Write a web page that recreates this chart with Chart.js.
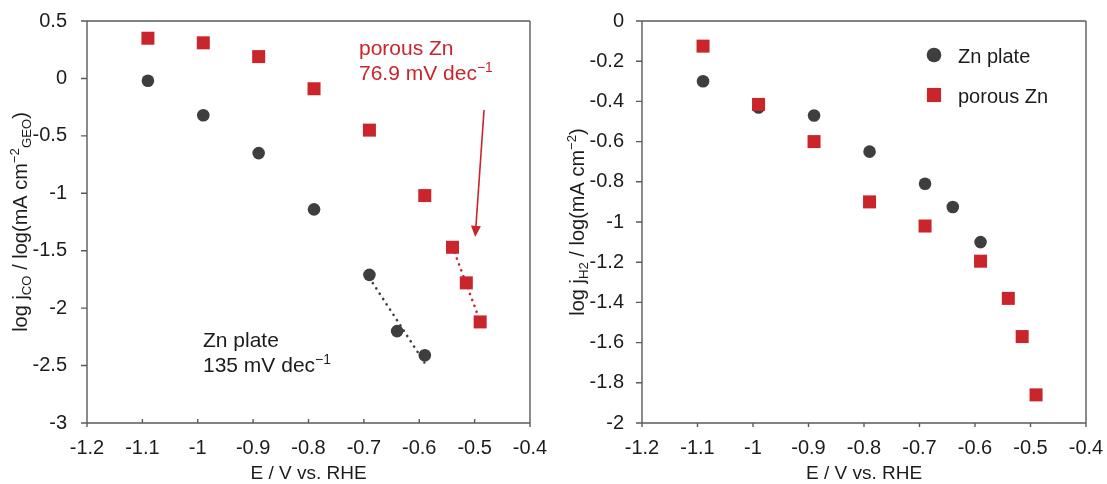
<!DOCTYPE html>
<html>
<head>
<meta charset="utf-8">
<script src="https://cdn.jsdelivr.net/npm/chart.js@4.4.1/dist/chart.umd.min.js"></script>
<style>
  html, body { margin: 0; padding: 0; background: #ffffff; }
  #wrap { position: relative; width: 1107px; height: 484px; overflow: hidden; }
  #c1 { position: absolute; left: 0; top: 0; }
  #c2 { position: absolute; left: 560px; top: 0; }
</style>
</head>
<body>
<div id="wrap">
  <canvas id="c1" width="560" height="484" style="width:560px;height:484px"></canvas>
  <canvas id="c2" width="547" height="484" style="width:547px;height:484px"></canvas>
</div>
<script>
// Electrode potentials, V vs. RHE
const platePotentials  = [-1.09, -0.99, -0.89, -0.79, -0.69, -0.64, -0.59];
const porousPotentials = [-1.09, -0.99, -0.89, -0.79, -0.69, -0.59, -0.54, -0.515, -0.49];

// log of CO partial current density
const plateCO  = [-0.02, -0.32, -0.65, -1.14, -1.71, -2.20, -2.41];
const porousCO = [0.35, 0.31, 0.19, -0.09, -0.45, -1.02, -1.47, -1.78, -2.12];

// log of H2 partial current density
const plateH2  = [-0.30, -0.43, -0.47, -0.65, -0.81, -0.925, -1.10];
const porousH2 = [-0.125, -0.415, -0.60, -0.90, -1.02, -1.195, -1.38, -1.57, -1.86];

// Tafel fit windows (indices into the series) and reported slopes, mV dec^-1
const plateTafelIdx  = [4, 5, 6];
const porousTafelIdx = [6, 7, 8];
const plateTafelSlope  = 135;
const porousTafelSlope = 76.9;

// Axis ranges and steps
const potentialRange = [-1.2, -0.4, 0.1];
const coRange = [-3, 0.5, 0.5];
const h2Range = [-2, 0, 0.2];

const seriesNames = ['Zn plate', 'porous Zn'];

const FONT = "'Liberation Sans', Arial, Helvetica, sans-serif";
const RED = '#c9252b';
const DARK = '#3e3e3e';
const AXIS = '#5a5a5a';
const INK = '#1c1c1c';
const TICK_SIZE = 20;
const TITLE_SIZE = 20;

function points(xs, ys) {
  return xs.map((x, i) => ({ x, y: ys[i] }));
}

// Straight Tafel line through the centroid of the fit window with the reported slope
function tafelLine(xs, ys, idx, slopeMv) {
  const px = idx.map(i => xs[i]);
  const py = idx.map(i => ys[i]);
  const mx = px.reduce((a, b) => a + b, 0) / px.length;
  const my = py.reduce((a, b) => a + b, 0) / py.length;
  const k = 1000 / slopeMv;
  return [Math.min(...px), Math.max(...px)].map(x => ({ x, y: my - k * (x - mx) }));
}

function fmt(v) {
  const r = Math.round(v * 10) / 10;
  return String(Object.is(r, -0) ? 0 : r);
}

// Text runs with superscript / subscript pieces
function richWidth(ctx, segs, size) {
  let w = 0;
  segs.forEach(s => {
    const fs = s.k === 'n' ? size : size * 0.66;
    ctx.font = fs + 'px ' + FONT;
    w += ctx.measureText(s.t).width;
  });
  return w;
}
function drawRich(ctx, segs, x, y, size, color) {
  ctx.fillStyle = color;
  ctx.textBaseline = 'alphabetic';
  ctx.textAlign = 'left';
  let cx = x;
  segs.forEach(s => {
    const fs = s.k === 'n' ? size : size * 0.66;
    const dy = s.k === 'sup' ? -size * 0.38 : s.k === 'sub' ? size * 0.22 : 0;
    ctx.font = fs + 'px ' + FONT;
    ctx.fillText(s.t, cx, y + dy);
    cx += ctx.measureText(s.t).width;
  });
}

// Frame, tick marks, axis titles, notes, arrow and legend
const decor = {
  id: 'decor',
  beforeDatasetsDraw(chart, args, o) {
    const { ctx, chartArea: a } = chart;
    const xs = chart.scales.x, ys = chart.scales.y;
    ctx.save();
    ctx.strokeStyle = AXIS;
    ctx.lineWidth = 1.4;
    ctx.beginPath();
    ctx.moveTo(a.left, a.top); ctx.lineTo(a.right, a.top);
    ctx.moveTo(a.left, a.bottom); ctx.lineTo(a.right, a.bottom);
    ctx.moveTo(a.left, a.top); ctx.lineTo(a.left, a.bottom + 4);
    ctx.moveTo(a.right, a.top); ctx.lineTo(a.right, a.bottom + 4);
    ys.ticks.forEach(t => {
      const p = ys.getPixelForValue(t.value);
      ctx.moveTo(a.left - 6, p); ctx.lineTo(a.left, p);
    });
    xs.ticks.forEach(t => {
      const p = xs.getPixelForValue(t.value);
      if (o.xTicksInside) { ctx.moveTo(p, a.bottom); ctx.lineTo(p, a.bottom - 4); }
      else { ctx.moveTo(p, a.bottom); ctx.lineTo(p, a.bottom + 4); }
    });
    ctx.stroke();
    ctx.restore();
  },
  afterDraw(chart, args, o) {
    const { ctx, chartArea: a } = chart;
    const xs = chart.scales.x, ys = chart.scales.y;
    ctx.save();
    ctx.font = '19px ' + FONT;
    ctx.fillStyle = INK;
    ctx.textAlign = 'center';
    ctx.textBaseline = 'alphabetic';
    ctx.fillText(o.xTitle, (a.left + a.right) / 2, 479);
    ctx.save();
    ctx.translate(o.yTitleX, (a.top + a.bottom) / 2);
    ctx.rotate(-Math.PI / 2);
    const w = richWidth(ctx, o.yTitle, TITLE_SIZE);
    drawRich(ctx, o.yTitle, -w / 2, 6, TITLE_SIZE, INK);
    ctx.restore();
    (o.notes || []).forEach(n => {
      n.lines.forEach((line, i) => {
        drawRich(ctx, line, a.left + n.dx, a.top + n.dy + i * 25, 21, n.color);
      });
    });
    if (o.arrow) {
      const x0 = xs.getPixelForValue(o.arrow.from[0]), y0 = ys.getPixelForValue(o.arrow.from[1]);
      const x1 = xs.getPixelForValue(o.arrow.to[0]), y1 = ys.getPixelForValue(o.arrow.to[1]);
      const ang = Math.atan2(y1 - y0, x1 - x0);
      const L = 11, H = 5;
      const bx = x1 - L * Math.cos(ang), by = y1 - L * Math.sin(ang);
      ctx.strokeStyle = RED;
      ctx.fillStyle = RED;
      ctx.lineWidth = 1.6;
      ctx.beginPath(); ctx.moveTo(x0, y0); ctx.lineTo(bx, by); ctx.stroke();
      ctx.beginPath();
      ctx.moveTo(x1, y1);
      ctx.lineTo(bx + H * Math.sin(ang), by - H * Math.cos(ang));
      ctx.lineTo(bx - H * Math.sin(ang), by + H * Math.cos(ang));
      ctx.closePath();
      ctx.fill();
    }
    if (o.legend) {
      o.legend.items.forEach((idx, i) => {
        const ds = chart.data.datasets[idx];
        const mx = a.right - o.legend.dxRight;
        const my = a.top + o.legend.dy + i * 40;
        ctx.fillStyle = ds.backgroundColor;
        ctx.strokeStyle = ds.backgroundColor;
        Chart.helpers.drawPoint(ctx, {
          pointStyle: ds.pointStyle,
          radius: ds.pointStyle === 'rect' ? 10 : 7.3,
          rotation: 0,
          borderWidth: 0
        }, mx, my);
        ctx.font = '20px ' + FONT;
        ctx.fillStyle = INK;
        ctx.textAlign = 'left';
        ctx.textBaseline = 'alphabetic';
        ctx.fillText(ds.label, mx + 24, my + 7.5);
      });
    }
    ctx.restore();
  }
};

function scatterSet(label, xs, ys, style, color, order) {
  return {
    label, data: points(xs, ys), order,
    pointStyle: style,
    pointRadius: style === 'rect' ? 9.2 : 6.3,
    backgroundColor: color, borderColor: color, borderWidth: 0,
    showLine: false
  };
}
function fitSet(pts, color) {
  return {
    label: '', data: pts, order: 5, showLine: true,
    pointRadius: 0, borderColor: color, borderWidth: 2.6,
    borderDash: [0.1, 6.2], borderCapStyle: 'round', fill: false
  };
}

function makeChart(id, cfg) {
  return new Chart(document.getElementById(id), {
    type: 'scatter',
    data: { datasets: cfg.datasets },
    plugins: [decor],
    options: {
      responsive: false,
      devicePixelRatio: 1,
      animation: false,
      events: [],
      layout: { padding: { left: 0, right: cfg.padRight, top: 21, bottom: 0 } },
      plugins: { legend: { display: false }, tooltip: { enabled: false }, decor: cfg.decor },
      scales: {
        x: {
          type: 'linear',
          min: potentialRange[0], max: potentialRange[1],
          afterFit: s => { s.height = 61; s.paddingLeft = 0; s.paddingRight = 0; },
          grid: { display: false, drawTicks: false },
          border: { display: false },
          ticks: { stepSize: potentialRange[2], padding: 13, color: INK, font: { family: FONT, size: TICK_SIZE }, callback: v => fmt(v), maxRotation: 0, autoSkip: false }
        },
        y: {
          type: 'linear',
          min: cfg.yRange[0], max: cfg.yRange[1],
          afterFit: s => { s.width = cfg.yWidth; s.paddingTop = 0; s.paddingBottom = 0; },
          grid: { display: false, drawTicks: false },
          border: { display: false },
          ticks: { stepSize: cfg.yRange[2], padding: cfg.yPad, color: INK, font: { family: FONT, size: TICK_SIZE }, callback: v => fmt(v), autoSkip: false }
        }
      }
    }
  });
}

// CO partial current
makeChart('c1', {
  padRight: 30, yWidth: 87, yPad: 20, yRange: coRange,
  datasets: [
    scatterSet(seriesNames[1], porousPotentials, porousCO, 'rect', RED, 0),
    scatterSet(seriesNames[0], platePotentials, plateCO, 'circle', DARK, 1),
    fitSet(tafelLine(platePotentials, plateCO, plateTafelIdx, plateTafelSlope), DARK),
    fitSet(tafelLine(porousPotentials, porousCO, porousTafelIdx, porousTafelSlope), RED)
  ],
  decor: {
    xTicksInside: true,
    xTitle: 'E / V vs. RHE',
    yTitleX: 21,
    yTitle: [
      { t: 'log j', k: 'n' }, { t: 'CO', k: 'sub' },
      { t: ' / log(mA cm', k: 'n' }, { t: '\u22122', k: 'sup' }, { t: 'GEO', k: 'sub' }, { t: ')', k: 'n' }
    ],
    notes: [
      { dx: 272, dy: 34, color: RED, lines: [
        [{ t: 'porous Zn', k: 'n' }],
        [{ t: '76.9 mV dec', k: 'n' }, { t: '\u22121', k: 'sup' }]
      ] },
      { dx: 116, dy: 326, color: INK, lines: [
        [{ t: 'Zn plate', k: 'n' }],
        [{ t: '135 mV dec', k: 'n' }, { t: '\u22121', k: 'sup' }]
      ] }
    ],
    arrow: { from: [-0.483, -0.275], to: [-0.499, -1.38] }
  }
});

// H2 partial current
makeChart('c2', {
  padRight: 21, yWidth: 82, yPad: 18, yRange: h2Range,
  datasets: [
    scatterSet(seriesNames[0], platePotentials, plateH2, 'circle', DARK, 1),
    scatterSet(seriesNames[1], porousPotentials, porousH2, 'rect', RED, 0)
  ],
  decor: {
    xTicksInside: false,
    xTitle: 'E / V vs. RHE',
    yTitleX: 18,
    yTitle: [
      { t: 'log j', k: 'n' }, { t: 'H2', k: 'sub' },
      { t: ' / log(mA cm', k: 'n' }, { t: '\u22122', k: 'sup' }, { t: ')', k: 'n' }
    ],
    legend: { items: [0, 1], dxRight: 152, dy: 34 }
  }
});
</script>
</body>
</html>
